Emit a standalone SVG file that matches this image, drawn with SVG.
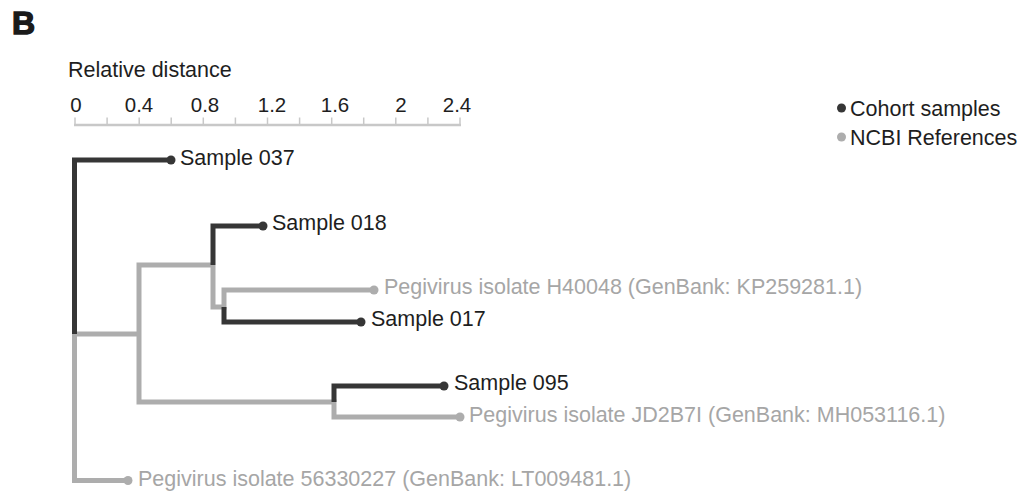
<svg xmlns="http://www.w3.org/2000/svg" width="1032" height="491" viewBox="0 0 1032 491">
<style>
.t{font-family:"Liberation Sans",Arial,sans-serif;font-size:21.5px}
.dk{fill:#1e1e1e}
.lt{fill:#a6a6a6}
.ax{font-family:"Liberation Sans",Arial,sans-serif;font-size:20.5px;fill:#1e1e1e;text-anchor:middle}
.bd{fill:none;stroke:#363636;stroke-width:5;stroke-linejoin:miter;stroke-linecap:butt}
.bl{fill:none;stroke:#adadad;stroke-width:5;stroke-linejoin:miter;stroke-linecap:butt}
.dd{fill:#363636}
.dl{fill:#adadad}
.tk{stroke:#c8c8c8;stroke-width:1.5}
</style>
<rect width="1032" height="491" fill="#ffffff"/>
<text x="12" y="34" font-family="'Liberation Sans',Arial,sans-serif" font-size="32" font-weight="900" fill="#1a1a1a" stroke="#1a1a1a" stroke-width="1.4">B</text>
<g id="axis">
<text x="68" y="77" class="t dk" font-size="22.5">Relative distance</text>
<text x="76" y="112" class="ax">0</text>
<text x="139" y="112" class="ax">0.4</text>
<text x="205" y="112" class="ax">0.8</text>
<text x="272" y="112" class="ax">1.2</text>
<text x="335" y="112" class="ax">1.6</text>
<text x="401" y="112" class="ax">2</text>
<text x="457" y="112" class="ax">2.4</text>
<line x1="74" y1="125" x2="461" y2="125" stroke="#c8c8c8" stroke-width="2.5"/>
<g class="tk">
<line x1="75" y1="117.5" x2="75" y2="125"/>
<line x1="107.1" y1="117.5" x2="107.1" y2="125"/>
<line x1="139.2" y1="117.5" x2="139.2" y2="125"/>
<line x1="171.2" y1="117.5" x2="171.2" y2="125"/>
<line x1="203.3" y1="117.5" x2="203.3" y2="125"/>
<line x1="235.4" y1="117.5" x2="235.4" y2="125"/>
<line x1="267.5" y1="117.5" x2="267.5" y2="125"/>
<line x1="299.6" y1="117.5" x2="299.6" y2="125"/>
<line x1="331.7" y1="117.5" x2="331.7" y2="125"/>
<line x1="363.7" y1="117.5" x2="363.7" y2="125"/>
<line x1="395.8" y1="117.5" x2="395.8" y2="125"/>
<line x1="427.9" y1="117.5" x2="427.9" y2="125"/>
<line x1="460" y1="117.5" x2="460" y2="125"/>
</g>
</g>
<g id="legend">
<circle cx="841.5" cy="108" r="4.5" class="dd"/>
<text x="850" y="115.5" class="t dk">Cohort samples</text>
<circle cx="841.5" cy="137" r="4.5" class="dl"/>
<text x="850" y="145" class="t dk">NCBI References</text>
</g>
<g id="connectors">
<path class="bl" d="M74.5,334 V480.5 H128"/>
<path class="bl" d="M74.5,334 H139"/>
<path class="bl" d="M213,265 H139 V402 H334 V417 H460"/>
<path class="bl" d="M213,265 V307 H224 V290 H374"/>
<path class="bd" d="M171,160 H74.5 V334"/>
<path class="bd" d="M263,226 H213 V265"/>
<path class="bd" d="M361,322 H224 V307"/>
<path class="bd" d="M444,386 H334 V402"/>
</g>
<g id="s037"><circle cx="171" cy="160" r="4.5" class="dd"/><text x="180" y="165" class="t dk">Sample 037</text></g>
<g id="s018"><circle cx="263" cy="226" r="4.5" class="dd"/><text x="272" y="230" class="t dk">Sample 018</text></g>
<g id="h40048"><circle cx="374" cy="290" r="4.5" class="dl"/><text x="384" y="294" class="t lt">Pegivirus isolate H40048 (GenBank: KP259281.1)</text></g>
<g id="s017"><circle cx="361" cy="322" r="4.5" class="dd"/><text x="371" y="326" class="t dk">Sample 017</text></g>
<g id="s095"><circle cx="444" cy="386" r="4.5" class="dd"/><text x="454" y="390" class="t dk">Sample 095</text></g>
<g id="jd2b7i"><circle cx="460" cy="417" r="4.5" class="dl"/><text x="469" y="422" class="t lt">Pegivirus isolate JD2B7I (GenBank: MH053116.1)</text></g>
<g id="r56330227"><circle cx="128" cy="480.5" r="4.5" class="dl"/><text x="138" y="486" class="t lt">Pegivirus isolate 56330227 (GenBank: LT009481.1)</text></g>
</svg>
